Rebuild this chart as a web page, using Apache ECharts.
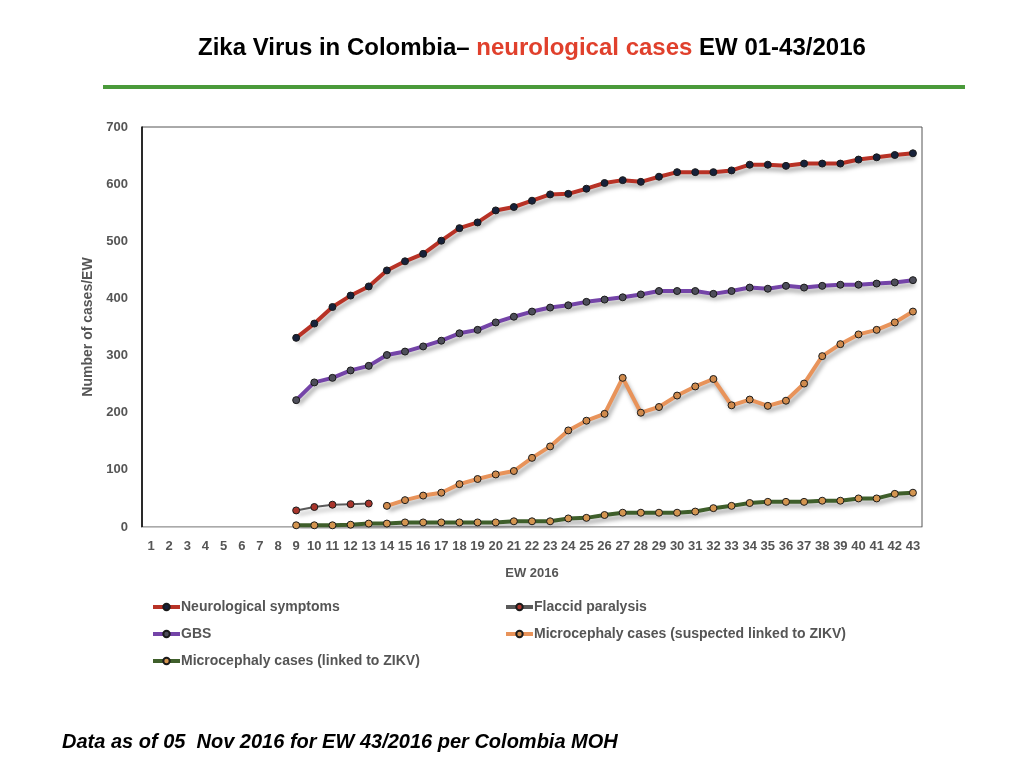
<!DOCTYPE html>
<html lang="en">
<head>
    <meta charset="UTF-8">
    <title>Zika Virus in Colombia - neurological cases</title>
    <script src="https://cdn.jsdelivr.net/npm/echarts@6/dist/echarts.min.js"></script>
</head>
<body style="height: 100%; margin: 0; background: #fff">
<div id="chart" style="width: 1024px; height: 768px"></div>

<script>
    // epidemiological weeks 1..43
    let weeks = [];
    for (let w = 1; w <= 43; w++) { weeks.push(String(w)); }

    // values, first week given per series
    let neuroStart = 9;
    let neuroSymptoms = [331, 356, 385, 405, 421, 449, 465, 478, 501, 523, 533, 554, 560, 571,
        582, 583, 592, 602, 607, 604, 613, 621, 621, 621, 624, 634, 634, 632, 636, 636, 636,
        643, 647, 651, 654];

    let gbsStart = 9;
    let gbs = [222, 253, 261, 274, 282, 301, 307, 316, 326, 339, 345, 358, 368, 377,
        384, 388, 394, 398, 402, 407, 413, 413, 413, 408, 413, 419, 417, 422, 419, 422, 424,
        424, 426, 428, 432];

    let flaccidStart = 9;
    let flaccid = [29, 35, 39, 40, 41];

    let microSuspStart = 14;
    let microSuspected = [37, 47, 55, 60, 75, 84, 92, 98, 121, 141, 169, 186, 198, 261,
        200, 210, 230, 246, 259, 213, 223, 212, 221, 251, 299, 320, 337, 345, 358, 377];

    let microLinkedStart = 9;
    let microLinked = [3, 3, 3, 4, 6, 6, 8, 8, 8, 8, 8, 8, 10, 10, 10, 15, 16, 21, 25, 25,
        25, 25, 27, 33, 37, 42, 44, 44, 44, 46, 46, 50, 50, 58, 60];

    function pad(start, vals) {
        let out = [];
        for (let i = 1; i < start; i++) { out.push(null); }
        return out.concat(vals);
    }

    let grey = '#555';
    let shadow = {shadowColor: 'rgba(0,0,0,0.35)', shadowBlur: 4, shadowOffsetX: 2, shadowOffsetY: 4};

    function makeSeries(name, data, lineColor, dotColor, width) {
        return {
            name: name,
            type: 'line',
            data: data,
            symbol: 'circle',
            symbolSize: 7,
            showSymbol: true,
            connectNulls: false,
            lineStyle: Object.assign({color: lineColor, width: width}, shadow),
            itemStyle: {color: dotColor, borderColor: '#1a1a1a', borderWidth: 1},
            emphasis: {disabled: true}
        };
    }

    let legendText = {fontFamily: 'Liberation Sans', fontWeight: 'bold', fontSize: 14, color: grey,
        padding: [0, 0, 0, -4]};

    let myChart = echarts.init(document.getElementById('chart'));
    let option = {
        animation: false,
        title: {
            left: 193,
            top: 31,
            text: '{a|Zika Virus in Colombia– }{b|neurological cases}{a| EW 01-43/2016}',
            textStyle: {
                rich: {
                    a: {fontFamily: 'Liberation Sans', fontWeight: 'bold', fontSize: 24, color: '#000'},
                    b: {fontFamily: 'Liberation Sans', fontWeight: 'bold', fontSize: 24, color: '#e0402c'}
                }
            }
        },
        graphic: [
            {type: 'line', shape: {x1: 103, y1: 87, x2: 965, y2: 87},
                style: {stroke: '#4a9a3a', lineWidth: 4}},
            {type: 'text', left: 62, top: 732,
                style: {text: 'Data as of 05  Nov 2016 for EW 43/2016 per Colombia MOH',
                    font: 'italic bold 20px "Liberation Sans"', fill: '#000'}}
        ],
        legend: [
            {orient: 'vertical', left: 146, top: 595, itemGap: 13, itemWidth: 27, itemHeight: 8,
                lineStyle: {width: 4},
                data: ['Neurological symptoms', 'GBS', 'Microcephaly cases (linked to ZIKV)'],
                textStyle: legendText, selectedMode: false},
            {orient: 'vertical', left: 499, top: 595, itemGap: 13, itemWidth: 27, itemHeight: 8,
                lineStyle: {width: 4},
                data: ['Flaccid paralysis', 'Microcephaly cases (suspected linked to ZIKV)'],
                textStyle: legendText, selectedMode: false}
        ],
        grid: {left: 142, right: 102, top: 127, bottom: 241, show: true,
            borderColor: '#555', borderWidth: 1},
        xAxis: {
            type: 'category',
            data: weeks,
            boundaryGap: true,
            name: 'EW 2016',
            nameLocation: 'middle',
            nameGap: 40,
            nameTextStyle: {fontFamily: 'Liberation Sans', fontWeight: 'bold', fontSize: 13, color: grey},
            axisLine: {lineStyle: {color: '#c8c8c8', width: 1}},
            axisTick: {show: false},
            axisLabel: {interval: 0, margin: 13, fontFamily: 'Liberation Sans', fontWeight: 'bold',
                fontSize: 13, color: grey},
            splitLine: {show: false}
        },
        yAxis: {
            type: 'value',
            min: 0,
            max: 700,
            interval: 100,
            name: 'Number of cases/EW',
            nameLocation: 'middle',
            nameGap: 40,
            nameTextStyle: {fontFamily: 'Liberation Sans', fontWeight: 'bold', fontSize: 14, color: grey},
            axisLine: {show: true, lineStyle: {color: '#000', width: 1.5}},
            axisTick: {show: false},
            axisLabel: {margin: 14, fontFamily: 'Liberation Sans', fontWeight: 'bold', fontSize: 13, color: grey},
            splitLine: {show: false}
        },
        series: [
            makeSeries('Neurological symptoms', pad(neuroStart, neuroSymptoms), '#b83226', '#17213a', 4),
            makeSeries('Flaccid paralysis', pad(flaccidStart, flaccid), '#5a5a5a', '#a8352c', 2),
            makeSeries('GBS', pad(gbsStart, gbs), '#7444a8', '#4e4e5a', 4),
            makeSeries('Microcephaly cases (suspected linked to ZIKV)', pad(microSuspStart, microSuspected), '#e8935a', '#d08a4c', 4),
            makeSeries('Microcephaly cases (linked to ZIKV)', pad(microLinkedStart, microLinked), '#3f5f2b', '#d49550', 4)
        ]
    };
    myChart.setOption(option);
</script>
</body>
</html>
